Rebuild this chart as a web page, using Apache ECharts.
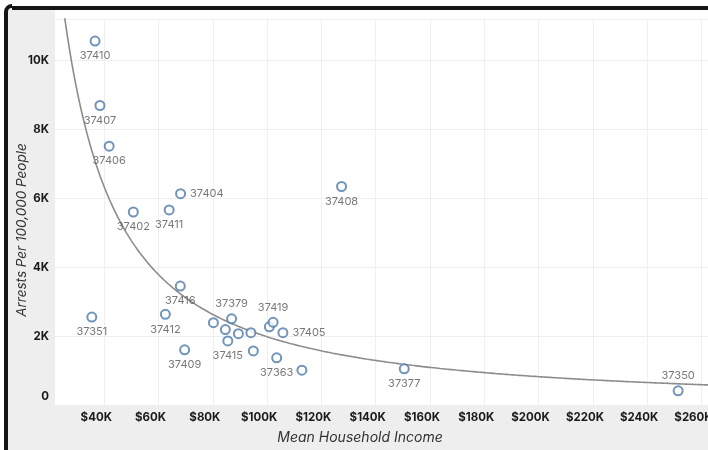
<!DOCTYPE html>
<html>
<head>
<meta charset="utf-8">
<script src="https://cdn.jsdelivr.net/npm/echarts@6/dist/echarts.min.js"></script>
<style>
  html, body { margin: 0; padding: 0; background: #fff; overflow: hidden; }
  #chart { width: 708px; height: 450px; }
</style>
</head>
<body>
<div id="chart"></div>
<script>
// ---- data ----
const zipCodes = ['37410','37407','37406','37404','37402','37411','37408','37416','37351','37412','37409','',
                  '37379','','37415','','','','','37419','37405','37363','','37377','37350'];
const meanIncome = [36600,38400,41800,68100,50700,63900,127400,68000,35400,62500,69600,80200,
                    86900,84600,85500,89400,94000,94900,100800,102200,105800,103500,112800,150500,251400];
const arrestsPer100k = [10560,8690,7510,6130,5600,5660,6340,3450,2550,2630,1600,2390,
                        2500,2190,1860,2070,2100,1570,2270,2400,2100,1370,1010,1050,410];
const xTickStep = 20000;
const yTickStep = 2000;
const xTitle = 'Mean Household Income';
const yTitle = 'Arrests Per 100,000 People';

// label placement (style, kept apart from data)
const labelPlacement = {
  '37404': { position: 'right' },
  '37405': { position: 'right' },
  '37379': { position: 'top', offset: [17, 0] },
  '37419': { position: 'top', offset: [17, 1] },
  '37350': { position: 'top', offset: [-16, 0] },
  '37363': { position: 'bottom', offset: [-5, 0] }
};

// ---- power trend line fitted (log-log least squares) from the data ----
function powerFit(xs, ys) {
  const n = xs.length;
  let sx = 0, sy = 0, sxx = 0, sxy = 0;
  for (let i = 0; i < n; i++) {
    const lx = Math.log(xs[i]), ly = Math.log(ys[i]);
    sx += lx; sy += ly; sxx += lx * lx; sxy += lx * ly;
  }
  const b = (n * sxy - sx * sy) / (n * sxx - sx * sx);
  const a = Math.exp((sy - b * sx) / n);
  return { a, b };
}
const fit = powerFit(meanIncome, arrestsPer100k);
const xMin = 20000, xMax = 262400;
const trend = [];
for (let i = 0; i <= 300; i++) {
  const x = xMin + (xMax - xMin) * i / 300;
  trend.push([x, fit.a * Math.pow(x, fit.b)]);
}

const points = meanIncome.map((x, i) => {
  const zip = zipCodes[i];
  const place = labelPlacement[zip] || { position: 'bottom' };
  return {
    value: [x, arrestsPer100k[i]],
    name: zip,
    label: Object.assign({ show: zip !== '' }, place)
  };
});

const chart = echarts.init(document.getElementById('chart'), null, { renderer: 'canvas' });
const FONT = 'Inter, "Noto Sans", sans-serif';

chart.setOption({
  animation: false,
  backgroundColor: '#ffffff',
  graphic: [
    { type: 'rect', z: -10, silent: true,
      shape: { x: 8, y: 10, width: 700, height: 440 },
      style: { fill: '#eeeeee' } },
    { type: 'rect', z: -9, silent: true,
      shape: { x: 55, y: 10, width: 653, height: 395 },
      style: { fill: '#ffffff' } },
    { type: 'rect', z: -8, silent: true,
      shape: { x: 4, y: 12, width: 4, height: 438 },
      style: { fill: '#151515' } },
    { type: 'rect', z: -8, silent: true,
      shape: { x: 12, y: 6, width: 696, height: 4 },
      style: { fill: '#151515' } },
    { type: 'sector', z: -8, silent: true,
      shape: { cx: 12, cy: 12, r0: 4, r: 8, startAngle: Math.PI, endAngle: Math.PI * 1.5 },
      style: { fill: '#151515' } },
    { type: 'rect', z: 50, silent: true,
      shape: { x: 49.5, y: 10, width: 5.5, height: 395 },
      style: { fill: '#eeeeee' } },
    { type: 'text', z: 50, silent: true,
      x: 22, y: 230, rotation: Math.PI / 2,
      style: { text: yTitle, font: 'italic 13.5px ' + FONT, fill: '#333',
               textAlign: 'center', textVerticalAlign: 'middle' } },
    { type: 'text', z: 50, silent: true,
      x: 360, y: 438,
      style: { text: xTitle, font: 'italic 14px ' + FONT, fill: '#333',
               textAlign: 'center', textVerticalAlign: 'middle' } }
  ],
  grid: { left: 50, right: 0, top: 19, bottom: 45, containLabel: false, outerBoundsMode: 'none', show: false },
  xAxis: {
    type: 'value', min: xMin, max: xMax, interval: xTickStep,
    axisLine: { show: false }, axisTick: { show: false },
    splitLine: { show: true, lineStyle: { color: '#efefef', width: 1 } },
    axisLabel: {
      margin: 7, color: '#1a1a1a', fontFamily: FONT, fontWeight: 'bold', fontSize: 11.5,
      padding: [0, 16, 0, 0], showMaxLabel: false, hideOverlap: false,
      formatter: v => (v <= xMin || v > 260000 ? '' : '$' + (v / 1000) + 'K')
    }
  },
  yAxis: {
    type: 'value', min: 0, max: 11200, interval: yTickStep,
    axisLine: { show: false }, axisTick: { show: false },
    splitLine: { show: true, lineStyle: { color: '#efefef', width: 1 } },
    axisLabel: {
      margin: 1, color: '#1a1a1a', fontFamily: FONT, fontWeight: 'bold', fontSize: 11.5,
      showMaxLabel: false,
      formatter: v => (v > 10000 ? '' : v === 0 ? '{zero|0}' : (v / 1000) + 'K'),
      rich: { zero: { fontFamily: FONT, fontWeight: 'bold', fontSize: 11.5, color: '#1a1a1a',
                      padding: [0, 0, 16, 0] } }
    }
  },
  series: [
    {
      type: 'line', data: trend, showSymbol: false, symbol: 'none', clip: true,
      lineStyle: { color: '#8c8c8c', width: 1.6 }, z: 2, silent: true
    },
    {
      type: 'scatter', data: points, symbol: 'circle', symbolSize: 9, z: 3,
      itemStyle: { color: '#ffffff', borderColor: '#4e79a7', borderWidth: 2 },
      label: {
        show: true, formatter: p => p.name, color: '#555555',
        fontFamily: FONT, fontSize: 11, distance: 4
      },
      labelLayout: { hideOverlap: false }
    }
  ]
});
</script>
</body>
</html>
